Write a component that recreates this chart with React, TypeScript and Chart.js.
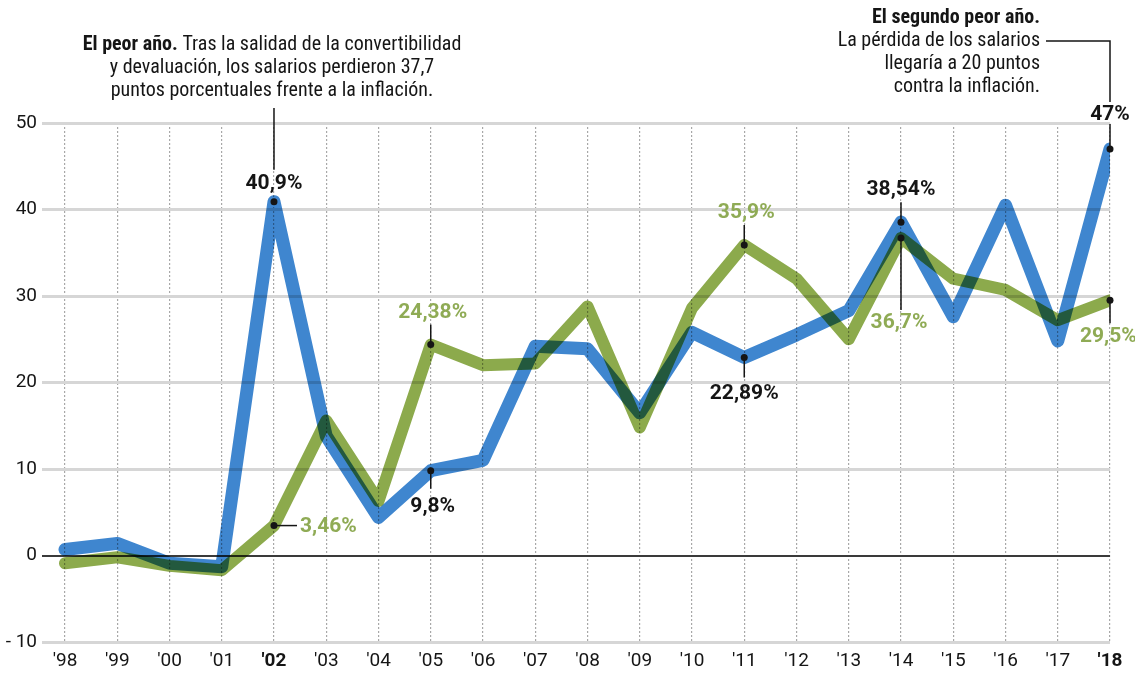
import React, { useEffect, useRef } from 'react';
import { Chart, registerables } from 'chart.js';

Chart.register(...registerables);

// ---- Data ----
const years = ["'98", "'99", "'00", "'01", "'02", "'03", "'04", "'05", "'06", "'07", "'08", "'09", "'10", "'11", "'12", "'13", "'14", "'15", "'16", "'17", "'18"];
const boldYears = ["'02", "'18"];
// Blue series: inflación anual (%)
const inflacion = [0.7, 1.4, -0.9, -1.3, 40.9, 13.8, 4.4, 9.8, 11, 24.2, 23.9, 16.5, 25.8, 22.89, 25.5, 28.3, 38.54, 27.6, 40.5, 24.8, 47];
// Green series: salarios (%)
const salarios = [-0.9, -0.2, -1.2, -1.7, 3.46, 15.6, 6.3, 24.38, 22, 22.2, 28.8, 14.8, 28.6, 35.9, 32, 25, 36.7, 32, 30.7, 27.2, 29.5];
const yTicks = [-10, 0, 10, 20, 30, 40, 50];

const BLUE = '#3f86cf';
const GREEN = '#8caa4c';
const GREEN_TEXT = '#8fab55';
const INK = '#151515';
const NOTE_FONT = '"Liberation Sans Narrow", "Roboto Condensed", Roboto, sans-serif';
const LABEL_FONT = 'Roboto, "Open Sans", sans-serif';

type Callout = {
  ds: number; // 0 = inflacion, 1 = salarios
  i: number;
  text: string;
  color: string;
  lx: number; ly: number; // end of leader line (relative to dot)
  tx: number; ty: number; // text anchor (relative to dot)
  align: CanvasTextAlign;
};

const callouts: Callout[] = [
  { ds: 0, i: 4, text: '40,9%', color: INK, lx: 0, ly: 0, tx: 0, ty: -18, align: 'center' },
  { ds: 1, i: 4, text: '3,46%', color: GREEN_TEXT, lx: 23, ly: 0, tx: 26, ty: 1, align: 'left' },
  { ds: 1, i: 7, text: '24,38%', color: GREEN_TEXT, lx: 0, ly: -20, tx: 2, ty: -32, align: 'center' },
  { ds: 0, i: 7, text: '9,8%', color: INK, lx: 0, ly: 18, tx: 2, ty: 36, align: 'center' },
  { ds: 1, i: 13, text: '35,9%', color: GREEN_TEXT, lx: 0, ly: -20, tx: 2, ty: -32, align: 'center' },
  { ds: 0, i: 13, text: '22,89%', color: INK, lx: 0, ly: 20, tx: 0, ty: 36, align: 'center' },
  { ds: 0, i: 16, text: '38,54%', color: INK, lx: 0, ly: -20, tx: 0, ty: -32, align: 'center' },
  { ds: 1, i: 16, text: '36,7%', color: GREEN_TEXT, lx: 0, ly: 72, tx: -2, ty: 85, align: 'center' },
  { ds: 0, i: 20, text: '47%', color: INK, lx: 0, ly: -25, tx: 0, ty: -34, align: 'center' },
  { ds: 1, i: 20, text: '29,5%', color: GREEN_TEXT, lx: 0, ly: 23, tx: -30, ty: 36, align: 'left' },
];

const noteLeft: [string, string][] = [
  ['El peor año.', ' Tras la salidad de la convertibilidad'],
  ['', 'y devaluación, los salarios perdieron 37,7'],
  ['', 'puntos porcentuales frente a la inflación.'],
];
const noteRight: [string, string][] = [
  ['El segundo peor año.', ''],
  ['', 'La pérdida de los salarios'],
  ['', 'llegaría a 20 puntos'],
  ['', 'contra la inflación.'],
];

const NOTE_SIZE = 20;
const LABEL_SIZE = 21;

function drawMixedLine(ctx: CanvasRenderingContext2D, parts: [string, string], x: number, y: number, align: 'center' | 'right') {
  const bold = `bold ${NOTE_SIZE}px ${NOTE_FONT}`;
  const reg = `${NOTE_SIZE}px ${NOTE_FONT}`;
  ctx.font = bold;
  const wb = parts[0] ? ctx.measureText(parts[0]).width : 0;
  ctx.font = reg;
  const wr = parts[1] ? ctx.measureText(parts[1]).width : 0;
  const total = wb + wr;
  const start = align === 'center' ? x - total / 2 : x - total;
  ctx.textAlign = 'left';
  ctx.textBaseline = 'middle';
  ctx.fillStyle = INK;
  if (parts[0]) {
    ctx.font = bold;
    ctx.fillText(parts[0], start, y);
  }
  if (parts[1]) {
    ctx.font = reg;
    ctx.fillText(parts[1], start + wb, y);
  }
}

const annotationPlugin = {
  id: 'annotations',
  beforeDatasetsDraw(chart: any) {
    chart.ctx.save();
    chart.ctx.globalCompositeOperation = 'multiply';
  },
  afterDatasetsDraw(chart: any) {
    chart.ctx.restore();
    const ctx: CanvasRenderingContext2D = chart.ctx;
    const xs = chart.scales.x;
    const ys = chart.scales.y;
    const area = chart.chartArea;
    const series = [inflacion, salarios];
    ctx.save();
    ctx.strokeStyle = INK;
    ctx.lineWidth = 1.5;

    // Left note and its leader to '02
    const x02 = xs.getPixelForValue(4);
    const y02 = ys.getPixelForValue(inflacion[4]);
    noteLeft.forEach((p, k) => drawMixedLine(ctx, p, x02 - 2, area.top - 78 + k * 23, 'center'));
    ctx.beginPath();
    ctx.moveTo(x02, area.top - 15);
    ctx.lineTo(x02, y02 - 32);
    ctx.stroke();

    // Right note and its leader to '18
    const x18 = xs.getPixelForValue(20);
    const y18 = ys.getPixelForValue(inflacion[20]);
    const noteRightX = x18 - 70;
    noteRight.forEach((p, k) => drawMixedLine(ctx, p, noteRightX, area.top - 105 + k * 23, 'right'));
    ctx.beginPath();
    ctx.moveTo(noteRightX + 6, area.top - 82);
    ctx.lineTo(x18, area.top - 82);
    ctx.lineTo(x18, y18 - 47);
    ctx.stroke();

    // Callouts
    callouts.forEach((c) => {
      const px = xs.getPixelForValue(c.i);
      const py = ys.getPixelForValue(series[c.ds][c.i]);
      if (c.lx !== 0 || c.ly !== 0) {
        ctx.beginPath();
        ctx.moveTo(px, py);
        ctx.lineTo(px + c.lx, py + c.ly);
        ctx.stroke();
      }
      ctx.fillStyle = INK;
      ctx.beginPath();
      ctx.arc(px, py, 3.5, 0, Math.PI * 2);
      ctx.fill();
      ctx.font = `bold ${LABEL_SIZE}px ${LABEL_FONT}`;
      ctx.textAlign = c.align;
      ctx.textBaseline = 'middle';
      ctx.fillStyle = c.color;
      ctx.fillText(c.text, px + c.tx, py + c.ty);
    });
    ctx.restore();
  },
};

export default function App() {
  const ref = useRef<HTMLCanvasElement | null>(null);
  useEffect(() => {
    document.body.style.margin = '0';
    const canvas = ref.current;
    if (!canvas) return;
    const chart = new Chart(canvas, {
      type: 'line',
      data: {
        datasets: [
          {
            label: 'Inflación',
            data: inflacion.map((v, i) => ({ x: i, y: v })),
            borderColor: BLUE,
            borderWidth: 13,
            pointRadius: 0,
            borderJoinStyle: 'round',
            borderCapStyle: 'round',
            tension: 0,
            fill: false,
          },
          {
            label: 'Salarios',
            data: salarios.map((v, i) => ({ x: i, y: v })),
            borderColor: GREEN,
            borderWidth: 12,
            pointRadius: 0,
            borderJoinStyle: 'round',
            borderCapStyle: 'round',
            tension: 0,
            fill: false,
          },
        ],
      },
      options: {
        animation: false,
        responsive: true,
        maintainAspectRatio: false,
        layout: { padding: { top: 123, right: 25, left: 0, bottom: 0 } },
        plugins: {
          legend: { display: false },
          tooltip: { enabled: false },
        },
        scales: {
          x: {
            type: 'linear',
            min: -0.44,
            max: 20,
            afterBuildTicks: (scale: any) => {
              scale.ticks = years.map((_, i) => ({ value: i }));
            },
            afterFit: (scale: any) => {
              scale.height = 31;
            },
            ticks: {
              autoSkip: false,
              maxRotation: 0,
              padding: 8,
              color: INK,
              font: (c: any) => ({
                family: LABEL_FONT,
                size: 19,
                weight: boldYears.includes(years[c.tick?.value]) ? 'bold' : 'normal',
              }),
              callback: (v: any) => years[v] ?? '',
            },
            grid: {
              color: '#a8a8a8',
              lineWidth: 1.2,
              drawTicks: false,
            },
            border: { display: false, dash: [2, 2] },
          },
          y: {
            min: -10,
            max: 50,
            afterBuildTicks: (scale: any) => {
              scale.ticks = yTicks.map((v) => ({ value: v }));
            },
            afterFit: (scale: any) => {
              scale.width = 42;
            },
            ticks: {
              padding: 5,
              color: INK,
              font: { family: LABEL_FONT, size: 19 },
              callback: (v: any) => (v < 0 ? '- ' + Math.abs(v) : String(v)),
            },
            grid: {
              drawTicks: false,
              color: (c: any) => (c.tick && c.tick.value === 0 ? '#3a3a3a' : '#d6d6d6'),
              lineWidth: (c: any) => (c.tick && c.tick.value === 0 ? 2 : 3),
            },
            border: { display: false },
          },
        },
      },
      plugins: [annotationPlugin],
    });
    return () => chart.destroy();
  }, []);
  return (
    <div style={{ position: 'relative', width: '1135px', height: '673px', background: '#fff' }}>
      <canvas ref={ref} />
    </div>
  );
}
